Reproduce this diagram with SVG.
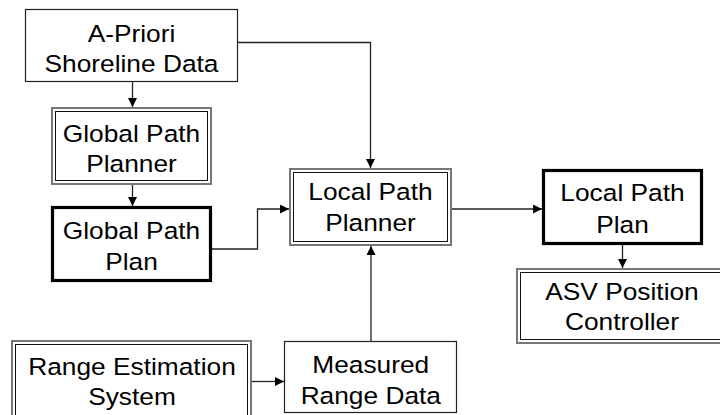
<svg xmlns="http://www.w3.org/2000/svg" width="720" height="415" viewBox="0 0 720 415">
<style>
  .t { font-family: "Liberation Sans", Arial, sans-serif; font-size: 24.5px; fill: #000; text-anchor: middle; }
  .single { fill: #fff; stroke: #222; stroke-width: 1.2; }
  .thick { fill: #fff; stroke: #000; stroke-width: 3.2; }
  .dblo { fill: #fff; stroke: #777; stroke-width: 2; }
  .dbli { fill: none; stroke: #111; stroke-width: 1; }
  .c { fill: none; stroke: #222; stroke-width: 1.3; }
</style>
<defs>
  <marker id="ah" viewBox="0 0 10 10" refX="10" refY="5" markerWidth="9" markerHeight="9" markerUnits="userSpaceOnUse" orient="auto">
    <path d="M0,0 L10,5 L0,10 Z" fill="#000"/>
  </marker>
</defs>
<rect width="720" height="415" fill="#fff"/>

<g id="connectors">
  <path class="c" d="M132.5,82 V107" marker-end="url(#ah)"/>
  <path class="c" d="M132.5,185 V206" marker-end="url(#ah)"/>
  <path class="c" d="M212,249 H257.5 V209 H289" marker-end="url(#ah)"/>
  <path class="c" d="M238,42.5 H370.5 V168" marker-end="url(#ah)"/>
  <path class="c" d="M371,341 V246" marker-end="url(#ah)"/>
  <path class="c" d="M452,209 H542" marker-end="url(#ah)"/>
  <path class="c" d="M622.5,245 V268" marker-end="url(#ah)"/>
  <path class="c" d="M252,381.5 H284" marker-end="url(#ah)"/>
</g>

<g id="apriori">
  <rect class="single" x="25.5" y="9.5" width="212" height="72"/>
  <text class="t" x="131.5" y="42" textLength="87.7" lengthAdjust="spacingAndGlyphs">A-Priori</text>
  <text class="t" x="131.5" y="72" textLength="174" lengthAdjust="spacingAndGlyphs">Shoreline Data</text>
</g>

<g id="global-planner">
  <rect class="dblo" x="52" y="108" width="159" height="76"/>
  <rect class="dbli" x="55.5" y="111.5" width="152" height="69"/>
  <text class="t" x="131.5" y="142" textLength="137.4" lengthAdjust="spacingAndGlyphs">Global Path</text>
  <text class="t" x="131.5" y="172" textLength="90.6" lengthAdjust="spacingAndGlyphs">Planner</text>
</g>

<g id="global-plan">
  <rect class="thick" x="52.5" y="207.5" width="158" height="73"/>
  <text class="t" x="131.5" y="238.5" textLength="137.4" lengthAdjust="spacingAndGlyphs">Global Path</text>
  <text class="t" x="131.5" y="270" textLength="52.6" lengthAdjust="spacingAndGlyphs">Plan</text>
</g>

<g id="local-planner">
  <rect class="dblo" x="290" y="169" width="161" height="76"/>
  <rect class="dbli" x="293.5" y="172.5" width="154" height="69"/>
  <text class="t" x="370.5" y="200" textLength="124.3" lengthAdjust="spacingAndGlyphs">Local Path</text>
  <text class="t" x="370.5" y="231" textLength="90.6" lengthAdjust="spacingAndGlyphs">Planner</text>
</g>

<g id="local-plan">
  <rect class="thick" x="543.5" y="170.5" width="158" height="73"/>
  <text class="t" x="622.5" y="200.7" textLength="124.3" lengthAdjust="spacingAndGlyphs">Local Path</text>
  <text class="t" x="622.5" y="233" textLength="52.6" lengthAdjust="spacingAndGlyphs">Plan</text>
</g>

<g id="asv">
  <rect class="dblo" x="517" y="269" width="220" height="74"/>
  <rect class="dbli" x="520.5" y="272.5" width="220" height="67"/>
  <text class="t" x="622" y="300" textLength="153.5" lengthAdjust="spacingAndGlyphs">ASV Position</text>
  <text class="t" x="622" y="330" textLength="114" lengthAdjust="spacingAndGlyphs">Controller</text>
</g>

<g id="range-est">
  <rect class="dblo" x="12" y="341" width="239" height="90"/>
  <rect class="dbli" x="15.5" y="344.5" width="232" height="90"/>
  <text class="t" x="132" y="375" textLength="207.6" lengthAdjust="spacingAndGlyphs">Range Estimation</text>
  <text class="t" x="132" y="405" textLength="87.7" lengthAdjust="spacingAndGlyphs">System</text>
</g>

<g id="measured">
  <rect class="single" x="284.5" y="341.5" width="172" height="71"/>
  <text class="t" x="370.8" y="373.3" textLength="116.9" lengthAdjust="spacingAndGlyphs">Measured</text>
  <text class="t" x="370.8" y="404" textLength="140.3" lengthAdjust="spacingAndGlyphs">Range Data</text>
</g>
</svg>
